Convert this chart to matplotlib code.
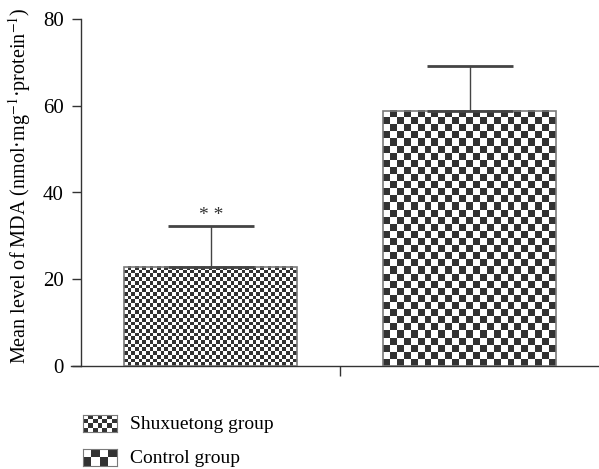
import numpy as np
import matplotlib
matplotlib.use("Agg")
import matplotlib.pyplot as plt
from matplotlib.patches import Rectangle

plt.rcParams["font.family"] = ["Liberation Serif", "DejaVu Serif"]
plt.rcParams["mathtext.fontset"] = "stix"

groups = ["Shuxuetong group", "Control group"]
means = [22.9, 58.8]
sds = [9.4, 10.3]
cell_px = [3.7, 7.0]   # checker square size per group, in pixels
yticks = [0, 20, 40, 60, 80]
ylabel = "Mean level of MDA (nmol·mg$^{-1}$·protein$^{-1}$)"
signif = ["* *", ""]

W, H = 599, 469
fig = plt.figure(figsize=(W / 100, H / 100), dpi=100)
ax = fig.add_axes([71 / W, 103 / H, 528 / W, 347 / H])
ax.set_xlim(-0.54, 1.5)
ax.set_ylim(0, 80)


def checker(nx, ny):
    return (np.indices((ny, nx)).sum(axis=0) % 2).astype(float)


def px_per_unit(ax):
    p0 = ax.transData.transform((0, 0))
    p1 = ax.transData.transform((1, 1))
    return p1[0] - p0[0], p1[1] - p0[1]


fig.canvas.draw()
sx, sy = px_per_unit(ax)
width = 0.667
edge = "#7a7a7a"
for i, (m, sd, c) in enumerate(zip(means, sds, cell_px)):
    x0, x1 = i - width / 2, i + width / 2
    nx = max(1, int(round(width * sx / c)))
    ny = max(1, int(round(m * sy / c)))
    ax.imshow(checker(nx, ny), cmap="gray_r", vmin=0, vmax=1.25, interpolation="nearest",
              extent=(x0, x1, 0, m), aspect="auto", origin="upper", zorder=2)
    ax.add_patch(Rectangle((x0, 0), width, m, facecolor="none", edgecolor=edge, lw=1.2, zorder=3))
    _, caps, bars = ax.errorbar(i, m, yerr=[[0], [sd]], fmt="none", ecolor="#444444", elinewidth=1.0,
                                capsize=31.3, capthick=2.0, zorder=4)
    for cp in caps:
        cp.set_color("black")
    if signif[i]:
        ax.text(i, m + sd + 0.4, signif[i], ha="center", va="bottom", fontsize=14, color="#333333")

ax.set_aspect("auto")
ax.set_xlim(-0.54, 1.5)
ax.set_ylim(0, 80)
ax.set_yticks(yticks)
ax.set_xticks([0.5])
ax.set_xticklabels([""])
ax.tick_params(axis="y", direction="out", length=6.5, width=1, colors="#333333", labelsize=15, labelcolor="black", pad=6)
ax.tick_params(axis="x", direction="out", length=7, width=1, colors="#333333")
ax.spines["left"].set_position(("data", -0.5))
for s in ["top", "right"]:
    ax.spines[s].set_visible(False)
for s in ["left", "bottom"]:
    ax.spines[s].set_color("#333333")
    ax.spines[s].set_linewidth(1.0)
ax.set_ylabel(ylabel, fontsize=14.5)
ax.yaxis.set_label_coords(-0.072, 0.52)

# legend drawn by hand so the checker swatches keep their pattern
leg_y = [424, 458]
leg_cells = [(7, 4), (4, 2)]
for lab, yc, (nx, ny) in zip(groups, leg_y, leg_cells):
    sw = fig.add_axes([83 / W, (H - yc - 8) / H, 34 / W, 17 / H])
    sw.imshow(checker(nx, ny), cmap="gray_r", vmin=0, vmax=1.25, interpolation="nearest", aspect="auto")
    sw.set_xticks([]); sw.set_yticks([])
    for s in sw.spines.values():
        s.set_color(edge); s.set_linewidth(0.8)
    fig.text(130 / W, (H - yc) / H, lab, fontsize=14, va="center", ha="left")

fig.savefig("out.png", dpi=100)
